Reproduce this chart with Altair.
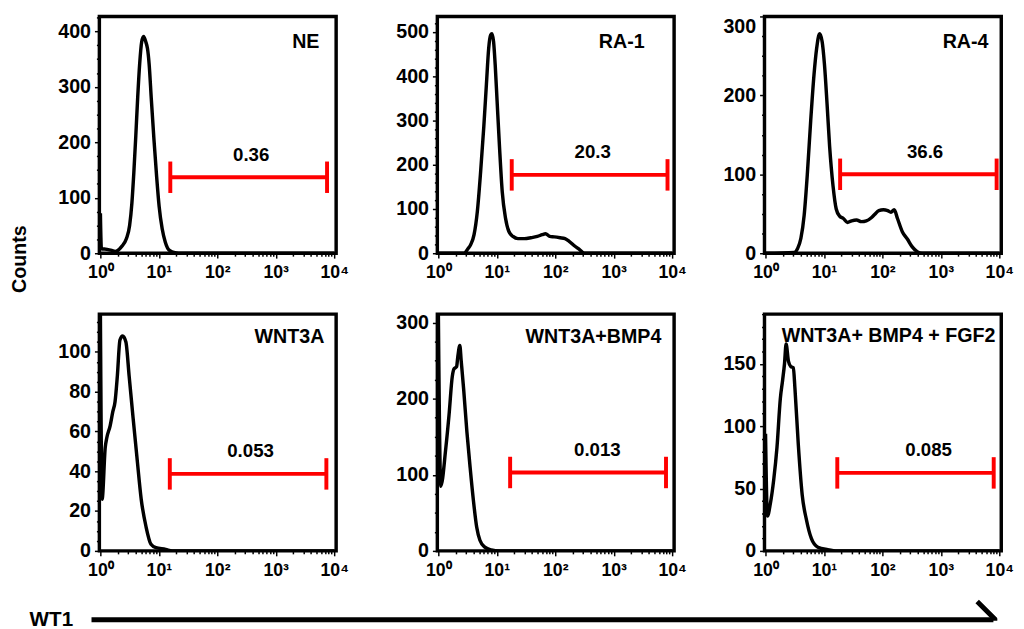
import altair as alt
import pandas as pd

FONT = "Liberation Sans"
RED = "#ff0000"

# ---------------- data ----------------
panel_names = ["NE", "RA-1", "RA-4", "WNT3A", "WNT3A+BMP4", "WNT3A+ BMP4 + FGF2"]

ne_x = [1.0, 1.04, 1.3, 1.56, 1.78, 2.3, 2.78, 3.16, 3.46, 3.73, 4.03, 4.35, 4.7, 5.08, 5.48,
        5.99, 6.39, 6.81, 7.45, 8.25, 9.15, 10.1, 11.4, 12.9, 15.2, 18.9, 25, 10000]
ne_y = [72, 8, 7, 5, 3, 12, 26, 50, 91, 145, 211, 282, 342, 381, 391,
        381, 369, 342, 276, 205, 139, 85, 44, 20, 5, 1, 0, 0]

ra1_x = [1.0, 2.78, 3.16, 3.59, 4.08, 4.64, 5.27, 5.99, 6.64, 7.26, 7.84, 8.25, 8.8, 9.38, 10.1,
         11.1, 12.4, 14.1, 16.1, 18.9, 23, 29.7, 38.3, 49.5, 60, 68.1, 80.5, 96.2, 121, 147,
         173, 207, 255, 316, 10000]
ra1_y = [0, 0, 9, 20, 42, 94, 182, 286, 382, 463, 493, 496, 478, 426, 345,
         242, 138, 79, 49, 38, 33, 33, 35, 38, 42, 44, 38, 37, 35, 33,
         27, 18, 9, 0, 0]

ra4_x = [1.0, 3.11, 3.54, 4.03, 4.58, 5.21, 5.93, 6.75, 7.48, 8.4, 9.31, 10.2, 11.3, 12.5, 14.3,
         16.2, 18.5, 21.5, 25.2, 29.7, 36.1, 43.8, 53.1, 64.5, 73.4, 86.8, 104, 123, 140, 159,
         181, 220, 267, 324, 393, 476, 10000]
ra4_y = [0, 1, 6, 19, 48, 102, 168, 226, 259, 278, 268, 239, 189, 135, 85,
         56, 47, 44, 39, 41, 42, 40, 41, 45, 49, 54, 55, 54, 52, 55,
         44, 27, 18, 8, 2, 0, 0]

wnt_x = [1.0, 1.07, 1.21, 1.29, 1.47, 1.63, 1.78, 1.95, 2.16, 2.4, 2.73, 3.1, 3.62, 4.22, 4.99,
         6.05, 7.34, 8.91, 13.1, 16.9, 10000]
wnt_y = [119, 26, 52, 57, 63, 70, 75, 88, 106, 108, 105, 88, 67, 47, 26,
         12, 3.3, 1.6, 0.8, 0, 0]

bmp_x = [1.0, 1.1, 1.34, 1.52, 1.73, 1.85, 2.05, 2.15, 2.33, 2.45, 2.71, 3.08, 3.5, 3.98, 4.53,
         5.14, 6.23, 8.05, 11.1, 10000]
bmp_y = [311, 85, 135, 178, 229, 239, 242, 255, 270, 251, 212, 156, 109, 66, 31,
         14, 5, 1.3, 0, 0]

fgf_x = [1.0, 1.08, 1.21, 1.38, 1.57, 1.79, 1.96, 2.11, 2.25, 2.47, 2.7, 2.99, 3.19, 3.63, 4.24,
         5.01, 6.08, 7.87, 11.6, 17.1, 10000]
fgf_y = [94, 28, 38, 57, 83, 122, 137, 150, 166, 152, 148, 147, 130, 86, 45,
         25, 10, 3, 1, 0, 0]

curves_x = [ne_x, ra1_x, ra4_x, wnt_x, bmp_x, fgf_x]
curves_y = [ne_y, ra1_y, ra4_y, wnt_y, bmp_y, fgf_y]

gate_left = [15.7, 18.0, 18.9, 15.4, 16.9, 16.9]
gate_right = [7550, 8330, 9000, 7350, 7850, 8020]
gate_level = [137, 177, 100, 38.7, 103, 62.6]
gate_text = ["0.36", "20.3", "36.6", "0.053", "0.013", "0.085"]
gate_text_x = [380, 437, 537, 371, 525, 617]

y_max = [427, 535, 300, 119, 311, 190]
y_major_step = [100, 100, 100, 20, 100, 50]
y_minor_step = [25, 20, 25, 5, 25, 10]

x_domain = [0.96, 10800]
x_decades = [1, 10, 100, 1000, 10000]
x_tick_labels = ["10⁰", "10¹", "10²", "10³", "10⁴"]
x_minor = [m * 10 ** k for k in range(4) for m in range(2, 10)]

y_axis_title = "Counts"
x_axis_title = "WT1"

# ---------------- layout / style ----------------
PANEL_W, PANEL_H = 241, 241
y_extent = [50, 56, 45, 50, 56, 45]
name_right = [17, 30, 13, 12, 13, 6]     # inset of panel name from right frame
name_base = [32, 32, 32, 29.7, 29.7, 28]  # baseline distance from top frame

x_label_expr = "''"
for v, lab in reversed(list(zip(x_decades, x_tick_labels))):
    x_label_expr = f"datum.value == {v} ? '{lab}' : ({x_label_expr})"
x_major_test = " || ".join(f"datum.value == {v}" for v in x_decades)


def panel(i):
    df = pd.DataFrame({"x": curves_x[i], "y": curves_y[i]})
    xs = alt.Scale(type="log", domain=x_domain, nice=False)
    ys = alt.Scale(domain=[0, y_max[i]], nice=False, zero=True)
    x_axis = alt.Axis(
        values=sorted(x_decades + x_minor), labelExpr=x_label_expr, title=None,
        labelFlush=False, labelPadding=6, labelFontSize=18,
        tickSize={"condition": {"test": x_major_test, "value": 5}, "value": 3},
    )
    step = y_major_step[i]
    y_vals = list(range(0, int(y_max[i]) + 1, y_minor_step[i]))
    y_axis = alt.Axis(
        values=y_vals, title=None,
        labelExpr=f"datum.value % {step} == 0 ? datum.label : ''",
        tickSize={"condition": {"test": f"datum.value % {step} == 0", "value": 5}, "value": 3},
        labelBaseline={"condition": {"test": f"datum.value >= {y_max[i]}", "value": "top"},
                       "value": "middle"},
        labelFlush=False, minExtent=y_extent[i], labelPadding=4, labelFontSize=20,
    )
    line = alt.Chart(df).mark_line(
        color="black", strokeWidth=3.5, interpolate="monotone", clip=True
    ).encode(
        x=alt.X("x:Q", scale=xs, axis=x_axis),
        y=alt.Y("y:Q", scale=ys, axis=y_axis),
    )
    gdf = pd.DataFrame({
        "left": [gate_left[i]], "right": [gate_right[i]], "level": [gate_level[i]],
        "label": [gate_text[i]], "lx": [gate_text_x[i]], "name": [panel_names[i]],
    })
    bar = alt.Chart(gdf).mark_rule(color=RED, strokeWidth=4, opacity=1).encode(
        x=alt.X("left:Q", scale=xs, axis=x_axis), x2="right:Q",
        y=alt.Y("level:Q", scale=ys, axis=y_axis),
    )
    cdf = pd.DataFrame({"cx": [gate_left[i], gate_right[i]],
                        "level": [gate_level[i], gate_level[i]]})
    caps = alt.Chart(cdf).mark_tick(
        color=RED, orient="vertical", size=32, thickness=4, opacity=1
    ).encode(
        x=alt.X("cx:Q", scale=xs, axis=x_axis),
        y=alt.Y("level:Q", scale=ys, axis=y_axis),
    )
    txt = alt.Chart(gdf).mark_text(
        font=FONT, fontSize=19, fontWeight="bold", baseline="alphabetic", dy=-17, color="black"
    ).encode(
        x=alt.X("lx:Q", scale=xs, axis=x_axis),
        y=alt.Y("level:Q", scale=ys, axis=y_axis),
        text="label:N",
    )
    name = alt.Chart(gdf).mark_text(
        font=FONT, fontSize=20, fontWeight="bold", baseline="alphabetic", align="right",
        color="black",
    ).encode(
        x=alt.value(PANEL_W - name_right[i]), y=alt.value(name_base[i]), text="name:N"
    )
    return alt.layer(line, bar, caps, txt, name).properties(
        width=PANEL_W, height=PANEL_H,
        view=alt.ViewBackground(stroke="black", strokeWidth=3.5),
    )


row1 = alt.hconcat(panel(0), panel(1), panel(2), spacing=30)
row2 = alt.hconcat(panel(3), panel(4), panel(5), spacing=30)
grid = alt.vconcat(row1, row2, spacing=27)

# "Counts" label column
counts_df = pd.DataFrame({"label": [y_axis_title]})
counts = alt.Chart(counts_df).mark_text(
    font=FONT, fontSize=20, fontWeight="bold", angle=270, align="center", baseline="middle",
    color="black",
).encode(x=alt.value(12), y=alt.value(247), text="label:N").properties(
    width=24, height=500, view=alt.ViewBackground(stroke="transparent", strokeWidth=0)
)
top = alt.hconcat(counts, grid, spacing=17)

# ---------------- WT1 arrow ----------------
ARROW_W, ARROW_H, AY = 1007, 23, 22
arrow_df = pd.DataFrame({"label": [x_axis_title]})
abase = alt.Chart(arrow_df)
shaft = abase.mark_rule(color="black", strokeWidth=5).encode(
    x=alt.value(85), x2=alt.value(ARROW_W - 4), y=alt.value(AY)
)
head = abase.mark_point(
    shape="M-1,-1L0,0L-1,1", filled=False, color="black", strokeWidth=5, size=1369,
    strokeJoin="miter", opacity=1, clip=True,
).encode(x=alt.value(ARROW_W - 2), y=alt.value(AY))
wt1 = abase.mark_text(
    font=FONT, fontSize=21, fontWeight="bold", align="left", baseline="middle", color="black"
).encode(x=alt.value(22), y=alt.value(AY), text="label:N")
arrow = alt.layer(shaft, head, wt1).properties(
    width=ARROW_W, height=ARROW_H,
    view=alt.ViewBackground(stroke="transparent", strokeWidth=0),
)

chart = alt.vconcat(top, arrow, spacing=17).properties(
    padding={"left": 0, "top": 0, "right": 0, "bottom": 0}
).configure_view(
    stroke="black", strokeWidth=3.5
).configure_axis(
    labelFont=FONT, labelFontWeight="bold", labelColor="black",
    domain=False, grid=False, tickColor="black", tickWidth=1.5,
)

chart.save("out.html", embed_options={"renderer": "svg", "actions": False})
